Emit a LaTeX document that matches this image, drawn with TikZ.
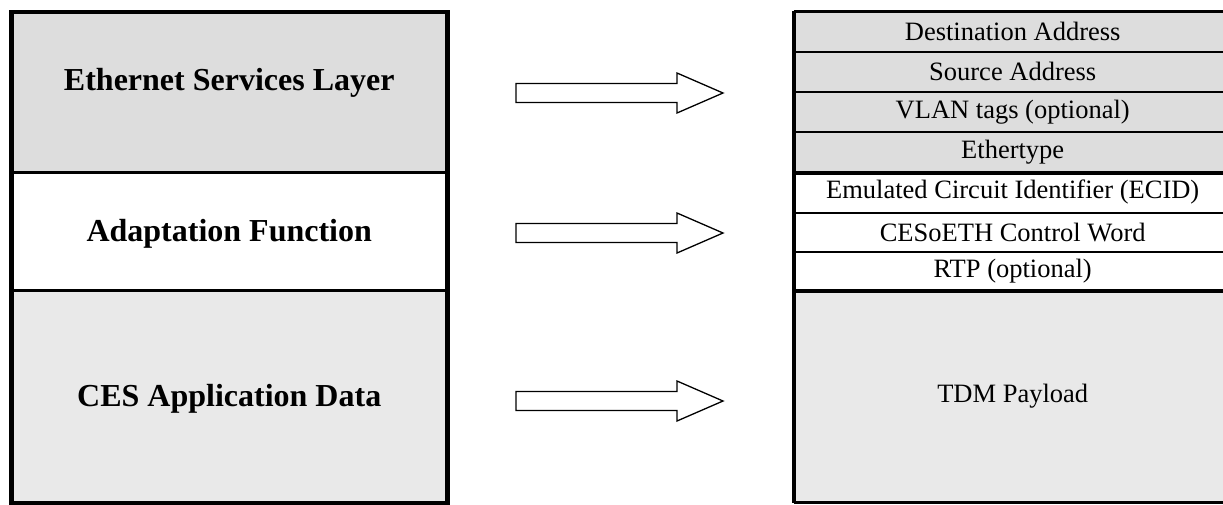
\documentclass[tikz,border=0pt]{standalone}
\usepackage{fontspec}
\setmainfont{Liberation Serif}
\definecolor{greyA}{HTML}{DDDDDD}
\definecolor{greyB}{HTML}{E9E9E9}
\newcommand{\atbase}[2]{\raisebox{#1}[0pt][0pt]{#2}}
\tikzset{
  layer/.style={rectangle, draw=black, line width=3pt, inner sep=0pt, anchor=north west,
    minimum width=434.5pt, font=\fontsize{32}{36}\selectfont\bfseries},
  field/.style={rectangle, draw=black, line width=2pt, inner sep=0pt, anchor=north west,
    minimum width=436pt, font=\fontsize{26.5}{30}\selectfont},
  bigarrow/.pic={
    \draw[draw=black, fill=white, line width=1.3pt, line join=miter]
      (-103.5,-9.5) -- (57.5,-9.5) -- (57.5,-20) -- (103.5,0) -- (57.5,20)
      -- (57.5,9.5) -- (-103.5,9.5) -- cycle;
  }
}
\begin{document}
\begin{tikzpicture}[x=1pt,y=-1pt]
\useasboundingbox (0,0) rectangle (1223,504);
% left stack
\node[layer, fill=greyA, minimum height=159.5pt] (esl) at (10.5,11) {\atbase{2pt}{Ethernet Services Layer}};
\node[layer, fill=white, minimum height=118pt] (af) at (10.5,170.5) {\atbase{-10.5pt}{Adaptation Function}};
\node[layer, fill=greyB, minimum height=212pt] (ces) at (10.5,288.5) {\atbase{-10.5pt}{CES Application Data}};
\draw[line width=3pt] (esl.north west) rectangle (ces.south east);
% right stack
\node[field, fill=greyA, minimum height=39.7pt] (da) at (793.7,11) {Destination Address};
\node[field, fill=greyA, minimum height=40pt] (sa) at (793.7,50.7) {Source Address};
\node[field, fill=greyA, minimum height=40pt] (vlan) at (793.7,90.7) {VLAN tags (optional)};
\node[field, fill=greyA, minimum height=40.3pt] (et) at (793.7,130.7) {Ethertype};
\node[field, fill=white, minimum height=40.7pt] (ecid) at (793.7,171) {Emulated Circuit Identifier (ECID)};
\node[field, fill=white, minimum height=38.8pt] (cw) at (793.7,211.7) {CESoETH Control Word};
\node[field, fill=white, minimum height=38.5pt] (rtp) at (793.7,250.5) {RTP (optional)};
\node[field, fill=greyB, minimum height=211.5pt] (tdm) at (793.7,289) {TDM Payload};
\draw[line width=3pt] (da.north west) -- (tdm.south west);
\draw[line width=3pt] (da.north west) -- ++(445,0);
\draw[line width=3pt] (tdm.south west) -- ++(445,0);
\draw[line width=3pt] (et.south west) -- ++(445,0);
\draw[line width=3pt] (rtp.south west) -- ++(445,0);
% arrows
\pic (a1) at (619.5,93) {bigarrow};
\pic (a2) at (619.5,233) {bigarrow};
\pic (a3) at (619.5,401) {bigarrow};
\end{tikzpicture}
\end{document}
